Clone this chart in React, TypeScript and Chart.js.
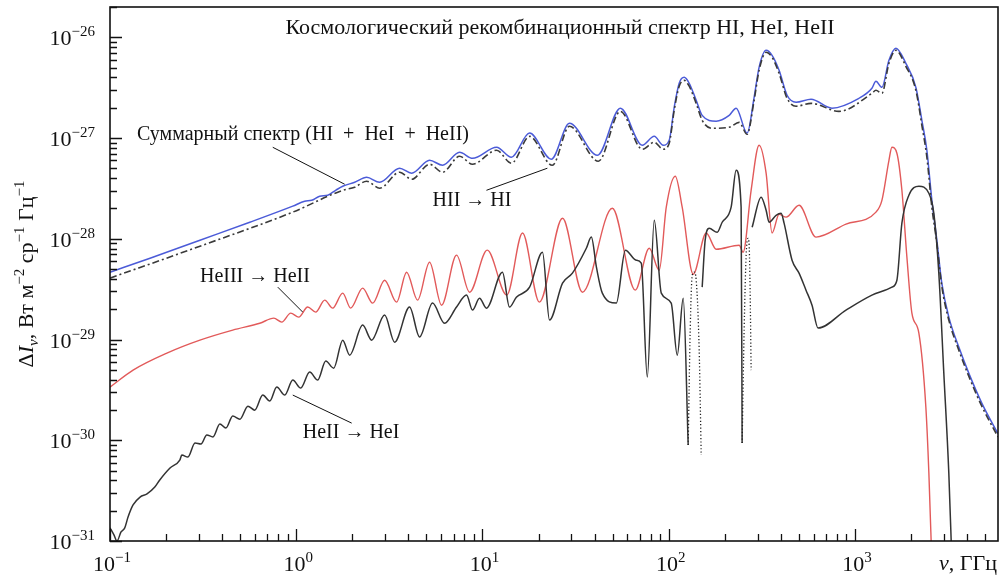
import React, { useEffect, useRef } from "react";
import { Chart, registerables } from "chart.js";

Chart.register(...registerables);

const FONT = '"Liberation Serif", "Times New Roman", serif';

// ---------- data (frequency in GHz, ΔI in W m^-2 sr^-1 Hz^-1) ----------
const totalFreq = [0.1, 0.164, 0.304, 0.563, 0.958, 1.11, 1.21, 1.336, 1.476, 1.628, 1.776, 2.06, 2.388, 2.804, 3.589, 4.163, 5.198, 6.104, 7.53, 8.84, 11.9, 14.3, 17.9, 23.4, 29.3, 41.4, 55.0, 72.1, 83.6, 93.4, 100.6, 107, 113.8, 121.1, 128.8, 140.4, 151.2, 179.8, 211.1, 230.1, 263.6, 287.4, 305.6, 333.3, 358.8, 391.3, 432, 482.8, 580.6, 752.3, 1050, 1233, 1296, 1395, 1522, 1659, 1876, 2123, 2286, 2432, 2587, 2751, 2925, 3190, 3610, 4083, 4795, 5860];
const totalVal = [4.66e-29, 6.42e-29, 9.69e-29, 1.46e-28, 2.11e-28, 2.36e-28, 2.41e-28, 2.65e-28, 2.71e-28, 3.03e-28, 3.32e-28, 3.64e-28, 4.08e-28, 3.64e-28, 5.02e-28, 4.48e-28, 6.02e-28, 5.37e-28, 7.23e-28, 6.3e-28, 8.1e-28, 6.45e-28, 1.12e-27, 6.16e-28, 1.4e-27, 6.75e-28, 1.98e-27, 8.48e-28, 1.04e-27, 8.48e-28, 9.51e-28, 2.02e-27, 3.5e-27, 4.01e-27, 3.5e-27, 2.37e-27, 1.68e-27, 1.47e-27, 1.68e-27, 1.98e-27, 1.12e-27, 2.54e-27, 5.04e-27, 7.43e-27, 6.63e-27, 4.71e-27, 2.66e-27, 2.27e-27, 2.43e-27, 1.98e-27, 2.48e-27, 3.12e-27, 3.66e-27, 3.19e-27, 5.91e-27, 7.78e-27, 5.52e-27, 3.19e-27, 1.5e-27, 7.57e-28, 2.41e-28, 9.69e-29, 3.63e-29, 1.67e-29, 8.41e-30, 4.64e-30, 2.34e-30, 1.16e-30];

const hiFreq = [0.1, 0.304, 0.958, 1.776, 2.06, 2.388, 2.804, 3.589, 4.163, 5.198, 6.104, 7.53, 8.84, 11.9, 14.3, 17.9, 23.7, 29.3, 41.9, 55.0, 72.1, 83.6, 93.4, 100.6, 107, 113.8, 121.1, 128.8, 140.4, 151.2, 171.1, 211.1, 238.8, 263.6, 287.4, 305.6, 333.3, 358.8, 391.3, 432, 482.8, 580.6, 820.4, 1233, 1296, 1395, 1522, 1659, 1876, 2123, 2286, 2432, 2587, 2751, 2925, 3190, 3610, 4083, 4795, 5860];
const hiVal = [4.07e-29, 8.44e-29, 1.84e-28, 3.03e-28, 3.25e-28, 3.73e-28, 3.18e-28, 4.58e-28, 3.9e-28, 5.5e-28, 4.58e-28, 6.6e-28, 5.5e-28, 7.57e-28, 5.62e-28, 1.04e-27, 5.37e-28, 1.31e-27, 5.89e-28, 1.84e-27, 7.74e-28, 9.08e-28, 7.74e-28, 8.88e-28, 1.89e-27, 3.27e-27, 3.74e-27, 3.27e-27, 2.21e-27, 1.5e-27, 1.25e-27, 1.28e-27, 1.43e-27, 1.09e-27, 2.37e-27, 4.71e-27, 7.1e-27, 6.33e-27, 4.39e-27, 2.48e-27, 2.07e-27, 2.21e-27, 1.84e-27, 2.78e-27, 2.98e-27, 2.78e-27, 5.52e-27, 7.43e-27, 5.16e-27, 2.98e-27, 1.34e-27, 6.45e-28, 2.06e-28, 9.04e-29, 3.39e-29, 1.56e-29, 7.85e-30, 4.33e-30, 2.18e-30, 1.08e-30];

const heiiFreq = [0.1, 0.133, 0.202, 0.304, 0.456, 0.637, 0.758, 0.836, 0.934, 1.031, 1.152, 1.272, 1.422, 1.569, 1.776, 1.96, 2.273, 2.572, 2.983, 3.459, 3.913, 4.482, 5.198, 6.03, 7.256, 8.52, 10.6, 13.5, 16.4, 20.2, 26.9, 34.4, 49.8, 66.1, 78.6, 88.9, 97.0, 108.4, 118.1, 135.3, 158.9, 179.8, 238.8, 250.9, 276.9, 305.6, 333.3, 358.8, 391.3, 426.6, 500.8, 617.7, 894.6, 1296, 1395, 1522, 1579, 1679, 1786, 1900, 2021, 2203, 2402, 2493, 2587];
const heiiVal = [3.37e-30, 4.97e-30, 7.33e-30, 9.86e-30, 1.24e-29, 1.45e-29, 1.63e-29, 1.49e-29, 1.83e-29, 1.67e-29, 2.1e-29, 1.87e-29, 2.46e-29, 2.05e-29, 2.89e-29, 2.05e-29, 3.24e-29, 2.3e-29, 3.88e-29, 2.35e-29, 4.66e-29, 2.46e-29, 5.86e-29, 2.19e-29, 6.88e-29, 2.95e-29, 7.71e-29, 2.76e-29, 1.14e-28, 2.35e-29, 1.6e-28, 2.95e-29, 2.01e-28, 3.09e-29, 8.06e-29, 4.88e-29, 2.06e-28, 4.18e-28, 2.06e-28, 4.45e-29, 1.14e-28, 7.88e-29, 8.64e-29, 7.36e-29, 3.03e-28, 8.48e-28, 4.48e-28, 1.14e-28, 1.75e-28, 1.64e-28, 2.15e-28, 1.04e-28, 1.4e-28, 1.84e-28, 2.41e-28, 6.02e-28, 8.1e-28, 7.07e-28, 3.03e-28, 6.57e-29, 1.83e-29, 1.16e-29, 2.13e-30, 4.73e-31, 6e-32];

// HeII -> HeI, positive part (null = sign change, drawn dotted below)
const heiFreq = [0.1, 0.105, 0.109, 0.1146, 0.12, 0.125, 0.133, 0.145, 0.158, 0.174, 0.185, 0.21, 0.237, 0.243, 0.262, 0.286, 0.308, 0.331, 0.357, 0.389, 0.419, 0.456, 0.498, 0.55, 0.599, 0.661, 0.721, 0.786, 0.868, 0.958, 1.057, 1.181, 1.304, 1.44, 1.589, 1.776, 1.936, 2.273, 2.54, 2.983, 3.374, 4.061, 4.594, 5.394, 6.257, 7.256, 8.21, 8.84, 9.64, 10.5, 12.8, 13.96, 15.2, 17.9, 21.0, 22.9, 26.9, 30.4, 36.1, 38.4, 40.9, 44.0, 52.3, 58.5, 66.9, 71.2, 76.7, 83.6, 91.2, 103.1, 111.1, 119.6, 127.2, 138, 151.2, 156.9, 164.9, 182.0, 193.6, 216.3, 230.1, 244.7, 247.8, 264, 280.4, 313.3, 333.3, 345.8, 377.0, 401.1, 416.2, 459.3, 500.8, 545.9, 588.0, 633.1, 894.6, 1233, 1579, 1679, 1786, 1947, 2203, 2493, 2651, 2819, 2999, 3190, 3311];
const heiVal = [1.35e-31, 1.15e-31, 1.0e-31, 1.23e-31, 1.35e-31, 1.73e-31, 2.28e-31, 2.73e-31, 2.93e-31, 3.43e-31, 4.03e-31, 5.3e-31, 6.36e-31, 7.13e-31, 6.81e-31, 9.38e-31, 9.17e-31, 1.13e-30, 1.08e-30, 1.45e-30, 1.32e-30, 1.74e-30, 1.62e-30, 2.18e-30, 1.99e-30, 2.81e-30, 2.45e-30, 3.37e-30, 2.81e-30, 3.96e-30, 3.3e-30, 4.75e-30, 3.96e-30, 6.11e-30, 5.2e-30, 9.86e-30, 7.0e-30, 1.39e-29, 9.86e-30, 1.75e-29, 9.42e-30, 2.1e-29, 1.06e-29, 2.3e-29, 1.45e-29, 2.1e-29, 2.76e-29, 1.96e-29, 2.57e-29, 2.05e-29, 4.66e-29, 2.1e-29, 2.63e-29, 3.31e-29, 7.36e-29, 1.56e-29, 3.63e-29, 4.56e-29, 8.06e-29, 1.04e-28, 5.23e-29, 2.89e-29, 2.3e-29, 7.71e-29, 6.13e-29, 5.73e-29, 4.24e-30, 1.53e-28, 2.89e-29, 2.3e-29, 7.0e-30, 2.57e-29, 8.96e-31, null, 3.31e-29, 9.69e-29, 1.27e-28, 1.16e-28, 1.46e-28, 2.06e-28, 4.79e-28, 2.06e-28, 9.38e-31, null, 1.3e-28, 2.59e-28, 1.92e-28, 1.46e-28, 1.71e-28, 1.79e-28, 1.43e-28, 6.13e-29, 4.56e-29, 3.09e-29, 2.19e-29, 1.3e-29, 1.96e-29, 2.76e-29, 3.31e-29, 3.88e-29, 1.43e-28, 2.71e-28, 3.32e-28, 2.83e-28, 1.79e-28, 4.56e-29, 4.64e-30, 4.73e-31, 6.5e-32];

// HeII -> HeI, |negative part|
const heiNegFreq = [127.2, 130.4, 133.7, 137.0, 140.4, 145.7, 149.4, 200, 247.8, 254.0, 260.4, 266.9, 270.2, 273.5, 276.9];
const heiNegVal = [8.96e-31, 1.24e-29, 4.35e-29, 4.66e-29, 3.88e-29, 7.85e-30, 7.13e-31, null, 9.38e-31, 1.24e-29, 6.88e-29, 1.01e-28, 8.64e-29, 3.09e-29, 4.97e-30];

// axes
const X_MIN = 0.1;
const X_MAX = 5860;
const Y_MIN = 1e-31;
const Y_MAX = 2e-26;
const xDecades = [-1, 0, 1, 2, 3];
const yDecades = [-31, -30, -29, -28, -27, -26];
const tickMultipliers = [1, 2, 3, 4, 5, 6, 7, 8, 9];

// annotations
const titleText = "Космологический рекомбинационный спектр HI, HeI, HeII";
const labelTexts = ["Суммарный спектр (HI\u2002+\u2002HeI\u2002+\u2002HeII)", "HII → HI", "HeIII → HeII", "HeII → HeI"];
const labelFreq = [0.1396, 5.394, 0.304, 1.084];
const labelVal = [1.07e-27, 2.41e-28, 4.16e-29, 1.18e-30];
const pointerFromFreq = [0.748, 10.5, 0.796, 0.958];
const pointerFromVal = [8.1e-28, 3.03e-28, 3.31e-29, 2.81e-30];
const pointerToFreq = [1.82, 22.3, 1.084, 1.985];
const pointerToVal = [3.48e-28, 5.02e-28, 1.87e-29, 1.48e-30];

function isPow10(v: number) {
  const l = Math.log10(v);
  return Math.abs(l - Math.round(l)) < 1e-6;
}
function expText(v: number) {
  const e = Math.round(Math.log10(v));
  return e < 0 ? "−" + String(-e) : String(e);
}
function fmtTick(value: any) {
  const v = Number(value);
  return isPow10(v) ? "10^" + expText(v) : "";
}
function logTicks(decades: number[], min: number, max: number) {
  const out: { value: number }[] = [];
  for (const e of decades) {
    for (const k of tickMultipliers) {
      const v = Number(`${k}e${e}`);
      if (v >= min * 0.9999 && v <= max * 1.0001) out.push({ value: v });
    }
  }
  return out;
}
function pts(fx: number[], fy: (number | null)[]) {
  return fx.map((x, i) => ({ x, y: fy[i] }));
}

type Seg = { t: string; size: number; italic?: boolean; dy?: number };
function segFont(s: Seg) {
  return `${s.italic ? "italic " : ""}${s.size}px ${FONT}`;
}
function richWidth(ctx: CanvasRenderingContext2D, segs: Seg[]) {
  let total = 0;
  for (const s of segs) {
    ctx.font = segFont(s);
    total += ctx.measureText(s.t).width;
  }
  return total;
}
function drawRich(ctx: CanvasRenderingContext2D, segs: Seg[], x: number, y: number, align: "left" | "center" | "right") {
  const total = richWidth(ctx, segs);
  let cx = align === "left" ? x : align === "center" ? x - total / 2 : x - total;
  ctx.textAlign = "left";
  for (const s of segs) {
    ctx.font = segFont(s);
    ctx.fillText(s.t, cx, y + (s.dy || 0));
    cx += ctx.measureText(s.t).width;
  }
}
function powerSegs(v: number): Seg[] {
  return [
    { t: "10", size: 22 },
    { t: expText(v), size: 15, dy: -9 },
  ];
}

const framePlugin = {
  id: "frameAndNotes",
  afterDatasetsDraw(chart: any) {
    const { ctx, chartArea: ca, scales } = chart;
    const xs = scales.x;
    const ys = scales.y;
    ctx.save();
    ctx.strokeStyle = "#111";
    ctx.lineWidth = 1.6;
    ctx.strokeRect(ca.left, ca.top, ca.right - ca.left, ca.bottom - ca.top);
    ctx.lineWidth = 1.3;
    ctx.beginPath();
    for (const t of ys.ticks) {
      const py = Math.round(ys.getPixelForValue(t.value)) + 0.5;
      const len = isPow10(t.value) ? 12 : 7;
      ctx.moveTo(ca.left, py);
      ctx.lineTo(ca.left + len, py);
    }
    for (const t of xs.ticks) {
      const px = Math.round(xs.getPixelForValue(t.value)) + 0.5;
      const len = isPow10(t.value) ? 12 : 7;
      ctx.moveTo(px, ca.bottom);
      ctx.lineTo(px, ca.bottom - len);
    }
    ctx.stroke();

    // tick labels (powers of ten) at the scales' tick positions
    ctx.fillStyle = "#111";
    ctx.textBaseline = "alphabetic";
    for (const t of ys.ticks) {
      if (!isPow10(t.value)) continue;
      const py = ys.getPixelForValue(t.value);
      drawRich(ctx, powerSegs(t.value), ca.left - 15, py + 8, "right");
    }
    for (const t of xs.ticks) {
      if (!isPow10(t.value)) continue;
      const px = xs.getPixelForValue(t.value);
      drawRich(ctx, powerSegs(t.value), px + 2, ca.bottom + 30, "center");
    }

    // pointers
    ctx.lineWidth = 1;
    ctx.strokeStyle = "#111";
    ctx.beginPath();
    for (let i = 0; i < pointerFromFreq.length; i++) {
      ctx.moveTo(xs.getPixelForValue(pointerFromFreq[i]), ys.getPixelForValue(pointerFromVal[i]));
      ctx.lineTo(xs.getPixelForValue(pointerToFreq[i]), ys.getPixelForValue(pointerToVal[i]));
    }
    ctx.stroke();

    // labels
    ctx.textBaseline = "middle";
    ctx.textAlign = "left";
    ctx.font = `20px ${FONT}`;
    for (let i = 0; i < labelTexts.length; i++) {
      ctx.fillText(labelTexts[i], xs.getPixelForValue(labelFreq[i]), ys.getPixelForValue(labelVal[i]));
    }
    ctx.font = `22px ${FONT}`;
    ctx.textAlign = "center";
    ctx.fillText(titleText, 560, ca.top + 21);

    // axis titles
    ctx.textBaseline = "alphabetic";
    drawRich(
      ctx,
      [
        { t: "ν", size: 22, italic: true },
        { t: ", ГГц", size: 22 },
      ],
      997,
      ca.bottom + 29,
      "right"
    );
    ctx.translate(33, (ca.top + ca.bottom) / 2);
    ctx.rotate(-Math.PI / 2);
    drawRich(
      ctx,
      [
        { t: "Δ", size: 22 },
        { t: "I", size: 22, italic: true },
        { t: "ν", size: 15, italic: true, dy: 5 },
        { t: ", Вт м", size: 22 },
        { t: "−2", size: 15, dy: -9 },
        { t: " ср", size: 22 },
        { t: "−1", size: 15, dy: -9 },
        { t: " Гц", size: 22 },
        { t: "−1", size: 15, dy: -9 },
      ],
      0,
      0,
      "center"
    );
    ctx.restore();
  },
};

export default function App() {
  const ref = useRef<HTMLCanvasElement | null>(null);
  useEffect(() => {
    if (!ref.current) return;
    const chart = new Chart(ref.current, {
      type: "line",
      data: {
        datasets: [
          {
            label: "HeII → HeI (|отриц.|)",
            data: pts(heiNegFreq, heiNegVal),
            borderColor: "#222",
            borderWidth: 1.3,
            borderDash: [1.2, 2.2],
            spanGaps: false,
            order: 0,
          },
          {
            label: "HeII → HeI",
            data: pts(heiFreq, heiVal),
            borderColor: "#333",
            borderWidth: 1.5,
            spanGaps: false,
            order: 1,
          },
          {
            label: "HII → HI",
            data: pts(hiFreq, hiVal),
            borderColor: "#3a3a3a",
            borderWidth: 1.6,
            borderDash: [7, 3, 2, 3],
            order: 2,
          },
          {
            label: "HeIII → HeII",
            data: pts(heiiFreq, heiiVal),
            borderColor: "#e25a5a",
            borderWidth: 1.4,
            order: 3,
          },
          {
            label: "Суммарный спектр",
            data: pts(totalFreq, totalVal),
            borderColor: "#4b5bd8",
            borderWidth: 1.5,
            order: 4,
          },
        ],
      },
      options: {
        animation: false,
        responsive: false,
        layout: { padding: { top: 7, right: 2, left: 0, bottom: 0 } },
        plugins: {
          legend: { display: false },
          tooltip: { enabled: false },
          title: { display: false },
        },
        elements: {
          point: { radius: 0 },
          line: { cubicInterpolationMode: "monotone", fill: false },
        },
        scales: {
          x: {
            type: "logarithmic",
            position: "bottom",
            min: X_MIN,
            max: X_MAX,
            grid: { display: false, drawTicks: false },
            border: { display: false },
            afterBuildTicks: (s: any) => {
              s.ticks = logTicks(xDecades, X_MIN, X_MAX);
            },
            afterFit: (s: any) => {
              s.height = 35;
              s.paddingLeft = 0;
              s.paddingRight = 0;
            },
            ticks: {
              display: false,
              autoSkip: false,
              maxRotation: 0,
              minRotation: 0,
              callback: fmtTick,
            },
          },
          y: {
            type: "logarithmic",
            position: "left",
            min: Y_MIN,
            max: Y_MAX,
            grid: { display: false, drawTicks: false },
            border: { display: false },
            afterBuildTicks: (s: any) => {
              s.ticks = logTicks(yDecades, Y_MIN, Y_MAX);
            },
            afterFit: (s: any) => {
              s.width = 110;
              s.paddingTop = 0;
              s.paddingBottom = 0;
            },
            ticks: {
              display: false,
              autoSkip: false,
              callback: fmtTick,
            },
          },
        },
      },
      plugins: [framePlugin],
    } as any);
    return () => chart.destroy();
  }, []);
  return (
    <div style={{ position: "fixed", left: 0, top: 0, width: 1000, height: 576, background: "#fff" }}>
      <canvas ref={ref} width={1000} height={576} style={{ display: "block", width: 1000, height: 576 }} />
    </div>
  );
}
